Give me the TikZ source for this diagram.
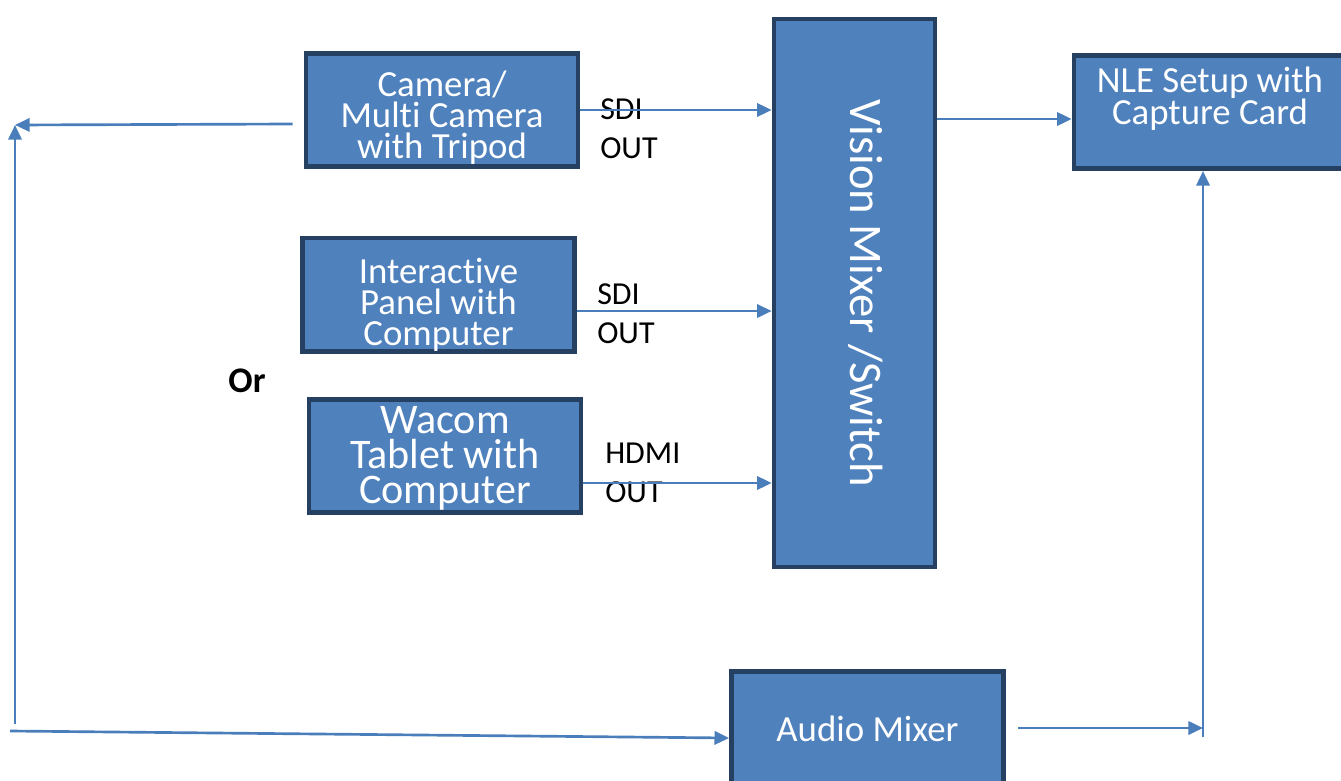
\documentclass[tikz,border=0pt]{standalone}
\usepackage{fontspec}
\setmainfont{Carlito}[RawFeature={-liga;-clig;-calt}]
\usetikzlibrary{arrows.meta}
\definecolor{boxfill}{HTML}{4F81BD}
\definecolor{boxedge}{HTML}{254061}
\definecolor{wire}{HTML}{4A7EBB}

\begin{document}
\begin{tikzpicture}[x=0.75pt,y=-0.75pt,
    unit/.style={draw=boxedge,line width=3.5pt,fill=boxfill,text=white,align=center,
      inner sep=0pt,minimum width=204pt,minimum height=85pt,text height=20pt,
      font=\fontsize{27.6}{23.25}\selectfont},
    link/.style={draw=wire,line width=2pt,-{Triangle[length=11pt,width=10pt]}},
    port/.style={align=left,inner sep=0pt,anchor=north west,
      font=\fontsize{24}{29.25}\selectfont}]
  \useasboundingbox (0,0) rectangle (1341,781);

  % sources
  \node[unit,text height=75.5pt,text depth=2pt] (cam) at (442,110) {Camera/\\Multi Camera\\with Tripod};
  \node[unit,text height=77.75pt,text depth=2pt] (panel) at (438.5,294.5) {Interactive\\Panel with\\Computer};
  \node[unit,text height=73.5pt,text depth=2pt,font=\fontsize{31.6}{26.5}\selectfont] (wacom) at (445,456) {Wacom\\Tablet with\\Computer};
  \node[font=\fontsize{27}{30}\selectfont\bfseries] (or) at (247,381) {Or};

  % mixers and capture
  \node[unit,rotate=-90,minimum width=411pt,minimum height=120.75pt,text depth=13.25pt,
    font=\fontsize{35}{40}\selectfont] (mixer) at (854.5,293) {Vision Mixer /Switch};
  \node[unit,text height=21.5pt,text depth=2pt,font=\fontsize{27.6}{22.5}\selectfont] (nle) at (1210,112) {NLE Setup with\\Capture Card};
  \node[unit,text depth=0.5pt] (audio) at (867.5,728) {Audio Mixer};

  % port labels
  \node[port] (sdione) at (600,98) {SDI\\OUT};
  \node[port] (sditwo) at (597,283) {SDI\\OUT};
  \node[port] (hdmi) at (605,443) {HDMI\\OUT};

  % video into the mixer
  \draw[link] (cam.east) -- (cam.east -| mixer.south);
  \draw[link] ([yshift=-12.4pt]panel.east) coordinate (pout) -- (pout -| mixer.south);
  \draw[link] ([yshift=-20.25pt]wacom.east) coordinate (wout) -- (wout -| mixer.south);
  \coordinate (nin) at ([yshift=-5.25pt]nle.west);
  \draw[link] (mixer.north |- nin) -- (nin);

  % audio loop
  \coordinate (corner) at (15,125);
  \coordinate (lowleft) at (15,724);
  \coordinate (feed) at (10,731);
  \coordinate (nlefoot) at (1203,737);
  \draw[link] ([xshift=-8.25pt,yshift=-10.5pt]cam.west) -- (corner);
  \draw[link] (lowleft) -- (corner);
  \draw[link] (feed) -- ([yshift=-7.5pt]audio.west);
  \draw[link] ([xshift=9pt]audio.east) -- (audio.east -| nlefoot);
  \draw[link] (nlefoot) -- (nlefoot |- nle.south);
\end{tikzpicture}
\end{document}
